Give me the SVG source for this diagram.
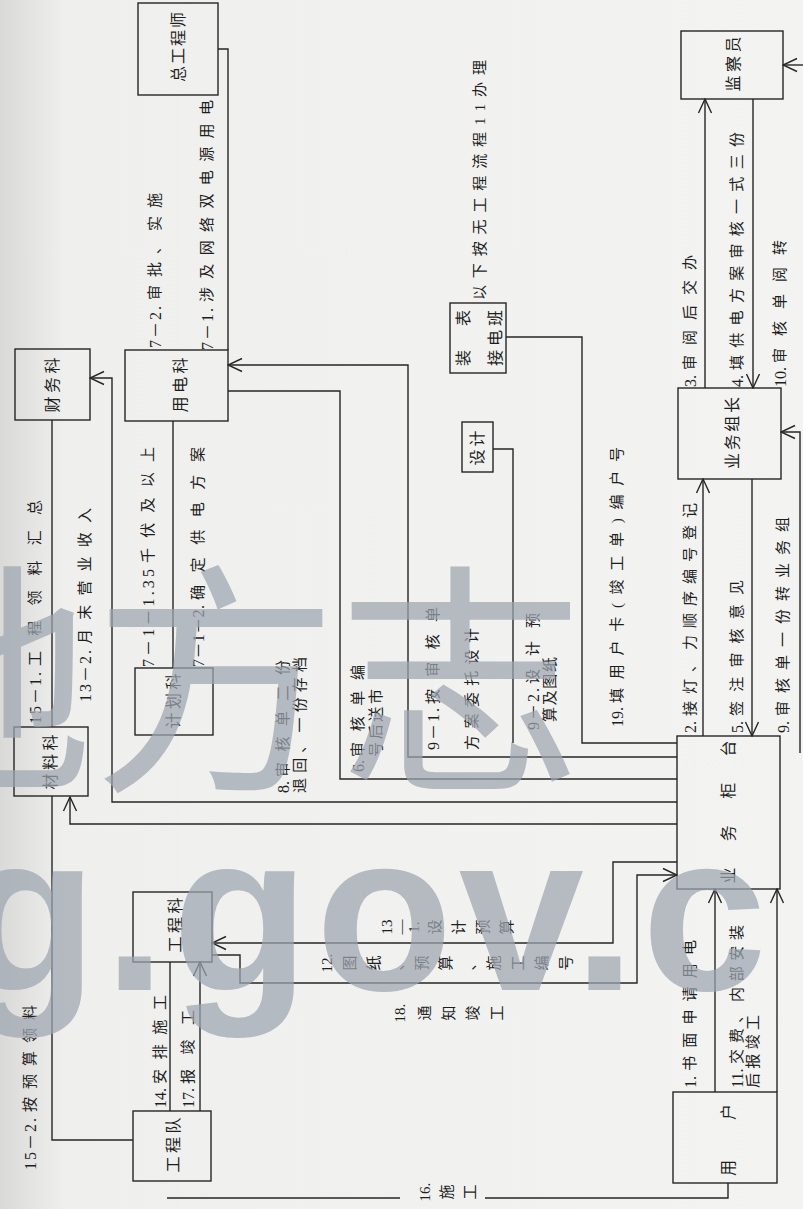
<svg xmlns="http://www.w3.org/2000/svg" width="803" height="1209" viewBox="0 0 803 1209">
<defs>
<style>
.bx{fill:none;stroke:#262626;stroke-width:1.4}
.ln{fill:none;stroke:#262626;stroke-width:1.4}
.ar{marker-end:url(#ah)}
text{font-family:"Liberation Serif","Noto Sans CJK SC",serif;fill:#1e1e1e}
.n{font-size:16px;text-anchor:middle;dominant-baseline:central}
.l{font-size:15px;dominant-baseline:central}
.p{font-size:16px;dominant-baseline:central}
.u{font-size:15px;text-anchor:middle;dominant-baseline:central}
.wm1{font-family:"Noto Sans CJK SC",sans-serif;font-size:245px;fill:#9ea6b0;opacity:0.72}
.wm2{font-family:"Liberation Sans",sans-serif;font-weight:bold;font-size:225px;letter-spacing:6px;fill:#9ea6b0;opacity:0.72}
</style>
<linearGradient id="bg" x1="0" y1="0" x2="1" y2="0">
<stop offset="0" stop-color="#d9d9d8"/>
<stop offset="0.08" stop-color="#efefed"/>
<stop offset="1" stop-color="#f3f3f1"/>
</linearGradient>
<marker id="ah" markerUnits="userSpaceOnUse" markerWidth="16" markerHeight="16" viewBox="0 0 16 16" refX="15" refY="8" orient="auto">
<path d="M1,1.5 L15,8 L1,14.5" fill="none" stroke="#262626" stroke-width="1.4"/>
</marker>
</defs>
<rect width="803" height="1209" fill="url(#bg)"/>

<g id="connectors">
<polyline class="ln" points="218,49 228,49 228,350"/>
<polyline class="ln ar" points="677,757 408,757 408,365 228,365"/>
<polyline class="ln" points="228,391 340,391 340,779 677,779"/>
<polyline class="ln" points="173,421 173,668"/>
<polyline class="ln ar" points="677,802 112,802 112,378 90,378"/>
<polyline class="ln ar" points="677,824 70,824 70,797"/>
<polyline class="ln" points="52,420 52,727"/>
<polyline class="ln" points="133,1140 52,1140 52,796"/>
<polyline class="ln ar" points="677,862 613,862 613,943 212,943"/>
<polyline class="ln ar" points="212,955 240,955 240,983 637,983 637,875 677,875"/>
<polyline class="ln" points="170,962 170,1111"/>
<polyline class="ln ar" points="200,1111 200,962"/>
<polyline class="ln" points="728,1183 728,1198 485,1198"/>
<polyline class="ln" points="400,1198 167,1198"/>
<polyline class="ln ar" points="715,1092 715,889"/>
<polyline class="ln ar" points="777,1092 777,889"/>
<polyline class="ln ar" points="703,736 703,479"/>
<polyline class="ln ar" points="752,479 752,736"/>
<polyline class="ln ar" points="800,753 800,432 781,432"/>
<polyline class="ln ar" points="705,388 705,99"/>
<polyline class="ln ar" points="753,99 753,388"/>
<polyline class="ln ar" points="803,65 783,65"/>
<polyline class="ln" points="506,337 582,337 582,743 677,743"/>
<polyline class="ln" points="493,449 513,449 513,743"/>
</g>

<g id="n-zonggongchengshi"><rect class="bx" x="138" y="3" width="80" height="92"/><text class="n" transform="translate(178,47) rotate(-90)" textLength="70" lengthAdjust="spacing">总工程师</text></g>
<g id="n-jianchayuan"><rect class="bx" x="681" y="31" width="102" height="68"/><text class="n" transform="translate(733,64) rotate(-90)" textLength="55" lengthAdjust="spacing">监察员</text></g>
<g id="n-caiwuke"><rect class="bx" x="15" y="349" width="75" height="71"/><text class="n" transform="translate(52,385) rotate(-90)" textLength="55" lengthAdjust="spacing">财务科</text></g>
<g id="n-yongdianke"><rect class="bx" x="125" y="350" width="103" height="71"/><text class="n" transform="translate(180,385) rotate(-90)" textLength="55" lengthAdjust="spacing">用电科</text></g>
<g id="n-jihuake"><rect class="bx" x="135" y="668" width="78" height="67"/><text class="n" transform="translate(173,701) rotate(-90)" textLength="55" lengthAdjust="spacing">计划科</text></g>
<g id="n-cailiaoke"><rect class="bx" x="14" y="727" width="74" height="69"/><text class="n" transform="translate(50,762) rotate(-90)" textLength="55" lengthAdjust="spacing">材料科</text></g>
<g id="n-gongchengke"><rect class="bx" x="133" y="892" width="79" height="70"/><text class="n" transform="translate(175,925) rotate(-90)" textLength="55" lengthAdjust="spacing">工程科</text></g>
<g id="n-gongchengdui"><rect class="bx" x="133" y="1111" width="78" height="70"/><text class="n" transform="translate(173,1145) rotate(-90)" textLength="55" lengthAdjust="spacing">工程队</text></g>
<g id="n-yonghu"><rect class="bx" x="673" y="1092" width="104" height="91"/><text class="n" transform="translate(728,1140) rotate(-90)" textLength="72" lengthAdjust="spacing">用户</text></g>
<g id="n-yewuguitai"><rect class="bx" x="677" y="736" width="103" height="153"/><text class="n" transform="translate(728,812) rotate(-90)" textLength="143" lengthAdjust="spacing">业务柜台</text></g>
<g id="n-yewuzuzhang"><rect class="bx" x="678" y="388" width="103" height="91"/><text class="n" transform="translate(732,433) rotate(-90)" textLength="72" lengthAdjust="spacing">业务组长</text></g>
<g id="n-zhuangbiao"><rect class="bx" x="450" y="303" width="56" height="70"/><text class="n" transform="translate(463,338) rotate(-90)" textLength="56" lengthAdjust="spacing">装表</text><text class="n" transform="translate(495,338) rotate(-90)" textLength="56" lengthAdjust="spacing">接电班</text></g>
<g id="n-sheji"><rect class="bx" x="462" y="422" width="31" height="50"/><text class="n" transform="translate(477,448) rotate(-90)" textLength="35" lengthAdjust="spacing">设计</text></g>

<g id="labels">
<text class="p" transform="translate(155,348) rotate(-90)" textLength="42" lengthAdjust="spacing">7－2.</text>
<text class="l" transform="translate(155,300) rotate(-90)" textLength="107" lengthAdjust="spacing">审批、实施</text>
<text class="p" transform="translate(207,350) rotate(-90)" textLength="42" lengthAdjust="spacing">7－1.</text>
<text class="l" transform="translate(207,302) rotate(-90)" textLength="202" lengthAdjust="spacing">涉及网络双电源用电</text>
<text class="p" transform="translate(35,724) rotate(-90)" textLength="52" lengthAdjust="spacing">15－1.</text>
<text class="l" transform="translate(35,666) rotate(-90)" textLength="166" lengthAdjust="spacing">工程领料汇总</text>
<text class="p" transform="translate(85,702) rotate(-90)" textLength="52" lengthAdjust="spacing">13－2.</text>
<text class="l" transform="translate(85,644) rotate(-90)" textLength="136" lengthAdjust="spacing">月末营业收入</text>
<text class="p" transform="translate(148,667) rotate(-90)" textLength="98" lengthAdjust="spacing">7－1－1.35</text>
<text class="l" transform="translate(148,563) rotate(-90)" textLength="116" lengthAdjust="spacing">千伏及以上</text>
<text class="p" transform="translate(198,667) rotate(-90)" textLength="62" lengthAdjust="spacing">7－1－2.</text>
<text class="l" transform="translate(198,600) rotate(-90)" textLength="153" lengthAdjust="spacing">确定供电方案</text>
<text class="p" transform="translate(283,793) rotate(-90)">8.</text>
<text class="l" transform="translate(283,777) rotate(-90)" textLength="117" lengthAdjust="spacing">审核单二份</text>
<text class="l" transform="translate(300,793) rotate(-90)" textLength="136" lengthAdjust="spacing">退回、一份存档</text>
<text class="p" transform="translate(358,772) rotate(-90)">6.</text>
<text class="l" transform="translate(358,757) rotate(-90)" textLength="92" lengthAdjust="spacing">审核单编</text>
<text class="l" transform="translate(376,757) rotate(-90)" textLength="68" lengthAdjust="spacing">号后送市</text>
<text class="p" transform="translate(433,750) rotate(-90)" textLength="42" lengthAdjust="spacing">9－1.</text>
<text class="l" transform="translate(433,704) rotate(-90)" textLength="97" lengthAdjust="spacing">按审核单</text>
<text class="l" transform="translate(472,750) rotate(-90)" textLength="122" lengthAdjust="spacing">方案委托设计</text>
<text class="p" transform="translate(533,730) rotate(-90)" textLength="42" lengthAdjust="spacing">9－2.</text>
<text class="l" transform="translate(533,684) rotate(-90)" textLength="71" lengthAdjust="spacing">设计预</text>
<text class="l" transform="translate(550,722) rotate(-90)" textLength="65" lengthAdjust="spacing">算及图纸</text>
<text class="p" transform="translate(617,727) rotate(-90)">19.</text>
<text class="l" transform="translate(617,703) rotate(-90)" textLength="256" lengthAdjust="spacing">填用户卡(竣工单)编户号</text>
<text class="l" transform="translate(480,300) rotate(-90)" textLength="240" lengthAdjust="spacing">以下按无工程流程11办理</text>
<text class="p" transform="translate(690,387) rotate(-90)">3.</text>
<text class="l" transform="translate(690,370) rotate(-90)" textLength="115" lengthAdjust="spacing">审阅后交办</text>
<text class="p" transform="translate(737,387) rotate(-90)">4.</text>
<text class="l" transform="translate(737,370) rotate(-90)" textLength="238" lengthAdjust="spacing">填供电方案审核一式三份</text>
<text class="p" transform="translate(780,387) rotate(-90)">10.</text>
<text class="l" transform="translate(780,363) rotate(-90)" textLength="123" lengthAdjust="spacing">审核单阅转</text>
<text class="p" transform="translate(690,733) rotate(-90)">2.</text>
<text class="l" transform="translate(690,716) rotate(-90)" textLength="213" lengthAdjust="spacing">接灯、力顺序编号登记</text>
<text class="p" transform="translate(737,733) rotate(-90)">5.</text>
<text class="l" transform="translate(737,716) rotate(-90)" textLength="136" lengthAdjust="spacing">签注审核意见</text>
<text class="p" transform="translate(783,733) rotate(-90)">9.</text>
<text class="l" transform="translate(783,716) rotate(-90)" textLength="199" lengthAdjust="spacing">审核单一份转业务组</text>
<text class="p" transform="translate(690,1088) rotate(-90)">1.</text>
<text class="l" transform="translate(690,1071) rotate(-90)" textLength="131" lengthAdjust="spacing">书面申请用电</text>
<text class="p" transform="translate(737,1088) rotate(-90)">11.</text>
<text class="l" transform="translate(737,1064) rotate(-90)" textLength="139" lengthAdjust="spacing">交费、内部安装</text>
<text class="l" transform="translate(753,1088) rotate(-90)" textLength="73" lengthAdjust="spacing">后报竣工</text>
<text class="p" transform="translate(160,1108) rotate(-90)">14.</text>
<text class="l" transform="translate(160,1084) rotate(-90)" textLength="89" lengthAdjust="spacing">安排施工</text>
<text class="p" transform="translate(188,1108) rotate(-90)">17.</text>
<text class="l" transform="translate(188,1084) rotate(-90)" textLength="74" lengthAdjust="spacing">报竣工</text>
<text class="p" transform="translate(30,1170) rotate(-90)" textLength="52" lengthAdjust="spacing">15－2.</text>
<text class="l" transform="translate(30,1112) rotate(-90)" textLength="107" lengthAdjust="spacing">按预算领料</text>
<text class="u" transform="translate(387,927) rotate(-90)">13</text>
<text class="u" transform="translate(401,927) rotate(-90)">—</text>
<text class="u" transform="translate(414,927) rotate(-90)">1.</text>
<text class="u" transform="translate(435,927) rotate(-90)">设</text>
<text class="u" transform="translate(459,927) rotate(-90)">计</text>
<text class="u" transform="translate(483,927) rotate(-90)">预</text>
<text class="u" transform="translate(507,927) rotate(-90)">算</text>
<text class="u" transform="translate(327,963) rotate(-90)">12.</text>
<text class="u" transform="translate(350,963) rotate(-90)">图</text>
<text class="u" transform="translate(374,963) rotate(-90)">纸</text>
<text class="u" transform="translate(398,963) rotate(-90)">、</text>
<text class="u" transform="translate(422,963) rotate(-90)">预</text>
<text class="u" transform="translate(446,963) rotate(-90)">算</text>
<text class="u" transform="translate(470,963) rotate(-90)">、</text>
<text class="u" transform="translate(494,963) rotate(-90)">施</text>
<text class="u" transform="translate(518,963) rotate(-90)">工</text>
<text class="u" transform="translate(542,963) rotate(-90)">编</text>
<text class="u" transform="translate(566,963) rotate(-90)">号</text>
<text class="u" transform="translate(400,1013) rotate(-90)">18.</text>
<text class="u" transform="translate(425,1013) rotate(-90)">通</text>
<text class="u" transform="translate(449,1013) rotate(-90)">知</text>
<text class="u" transform="translate(473,1013) rotate(-90)">竣</text>
<text class="u" transform="translate(497,1013) rotate(-90)">工</text>
<text class="u" transform="translate(425,1192) rotate(-90)">16.</text>
<text class="u" transform="translate(447,1192) rotate(-90)">施</text>
<text class="u" transform="translate(470,1192) rotate(-90)">工</text>
</g>

<g id="watermark">
<text class="wm1" x="-152" y="773">地方志</text>
<text class="wm2" x="-40" y="990">g.gov.c</text>
</g>
</svg>
